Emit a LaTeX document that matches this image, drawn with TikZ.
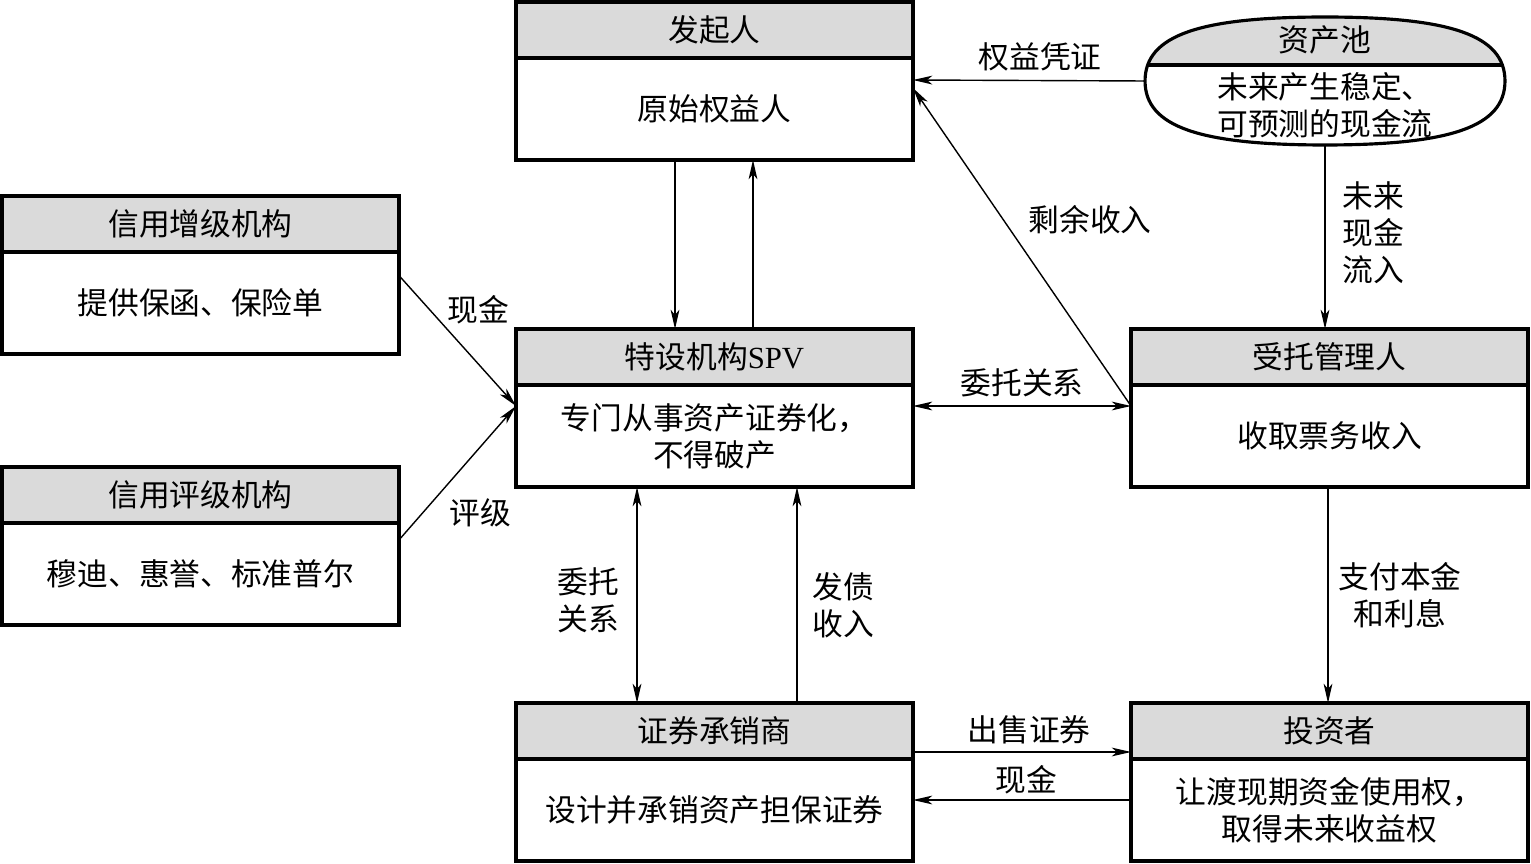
\documentclass[tikz,border=0pt]{standalone}
\usepackage{fontspec}
\setmainfont{Liberation Serif}
\newfontfamily\cjk{Noto Sans CJK SC}
\usetikzlibrary{shapes.geometric,arrows.meta}
\definecolor{headgray}{RGB}{218,218,218}
\newcommand\poolshape{(pool.west) .. controls +(0,0.92cm) and +(-2.5cm,0) .. (pool.north) .. controls +(2.5cm,0) and +(0,0.92cm) .. (pool.east) .. controls +(0,-0.92cm) and +(2.5cm,0) .. (pool.south) .. controls +(-2.5cm,0) and +(0,-0.92cm) .. (pool.west) -- cycle}
\begin{document}
\begin{tikzpicture}[x={(0.02cm,0cm)},y={(0cm,-0.02cm)},
  every node/.style={outer sep=0pt, align=center, font=\cjk\fontsize{17.5}{21}\selectfont},
  head/.style={draw, line width=1.8pt, fill=headgray, minimum width=7.94cm, minimum height=1.12cm},
  body/.style={draw, line width=1.8pt, minimum width=7.94cm, minimum height=2.04cm},
  flow/.style={-{Stealth[length=11pt,width=5pt,inset=3pt]}, line width=0.8pt},
  twoway/.style={{Stealth[length=11pt,width=5pt,inset=3pt]}-{Stealth[length=11pt,width=5pt,inset=3pt]}, line width=0.8pt}]
\useasboundingbox (0,0) rectangle (1531,864);
\node[head] (fqr-h) at (714.5,30) {发起人};
\node[body] (fqr) at (714.5,109) {原始权益人};
\node[head] (zx-h) at (200.5,224) {信用增级机构};
\node[body] (zx) at (200.5,303) {提供保函、保险单};
\node[head] (pj-h) at (200.5,495) {信用评级机构};
\node[body] (pj) at (200.5,574) {穆迪、惠誉、标准普尔};
\node[head] (spv-h) at (714.5,357) {特设机构{\rmfamily SPV}};
\node[body] (spv) at (714.5,436) {专门从事资产证券化，\\不得破产};
\node[head] (tg-h) at (1329.5,357) {受托管理人};
\node[body] (tg) at (1329.5,436) {收取票务收入};
\node[head] (cx-h) at (714.5,731) {证券承销商};
\node[body] (cx) at (714.5,810) {设计并承销资产担保证券};
\node[head] (tz-h) at (1329.5,731) {投资者};
\node[body] (tz) at (1329.5,810) {让渡现期资金使用权，\\取得未来收益权};
\node[rectangle, minimum width=7.2cm, minimum height=2.56cm, inner sep=0pt] (pool) at (1325,81) {};
\begin{scope}
\clip \poolshape;
\fill[headgray] (1100,0) rectangle (1550,65);
\draw[line width=1.8pt] (1100,65) -- (1550,65);
\end{scope}
\draw[line width=1.8pt] \poolshape;
\node (pool-t) at (1325,40) {资产池};
\node (pool-b) at (1325,105) {未来产生稳定、\\可预测的现金流};
\draw[flow] (pool.west) -- ([yshift=0.58cm]fqr.east);
\draw[flow] ([yshift=0.6cm]tg.west) -- ([yshift=0.42cm]fqr.east);
\draw[twoway] ([yshift=0.6cm]spv.east) -- ([yshift=0.6cm]tg.west);
\draw[flow] ([xshift=-0.79cm]fqr.south) -- ([xshift=-0.79cm]spv-h.north);
\draw[flow] ([xshift=0.77cm]spv-h.north) -- ([xshift=0.77cm]fqr.south);
\draw[flow] ([yshift=0.55cm]zx.east) -- ([yshift=0.6cm]spv.west);
\draw[flow] ([yshift=0.68cm]pj.east) -- ([yshift=0.6cm]spv.west);
\draw[flow] (pool.south) -- (pool.south |- tg-h.north);
\draw[flow] ([xshift=-0.03cm]tg.south) -- ([xshift=-0.03cm]tz-h.north);
\draw[twoway] ([xshift=-1.55cm]spv.south) -- ([xshift=-1.55cm]cx-h.north);
\draw[flow] ([xshift=1.65cm]cx-h.north) -- ([xshift=1.65cm]spv.south);
\draw[flow] ([yshift=-0.42cm]cx-h.east) -- ([yshift=-0.42cm]tz-h.east -| tz-h.west);
\draw[flow] ([yshift=0.2cm]tz.west) -- ([yshift=0.2cm]tz.west -| cx.east);
\node (l-qy) at (1040,57) {权益凭证};
\node (l-sy) at (1090,220) {剩余收入};
\node (l-wt) at (1022,383) {委托关系};
\node (l-xj1) at (478,310) {现金};
\node (l-pj) at (480,513) {评级};
\node (l-wl) at (1373,233) {未来\\现金\\流入};
\node (l-zf) at (1400,595) {支付本金\\和利息};
\node (l-wt2) at (588,600) {委托\\关系};
\node (l-fz) at (843,605) {发债\\收入};
\node (l-cs) at (1029,730) {出售证券};
\node (l-xj2) at (1026,780) {现金};
\end{tikzpicture}
\end{document}
